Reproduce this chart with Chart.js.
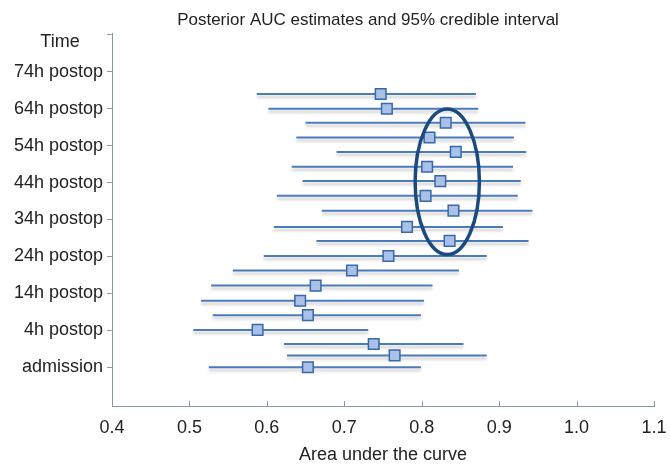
<!DOCTYPE html>
<html>
<head>
<meta charset="utf-8">
<script src="https://cdn.jsdelivr.net/npm/chart.js@4"></script>
<style>
  html, body { margin: 0; padding: 0; background: #fff; }
  #wrap { width: 670px; height: 466px; }
</style>
</head>
<body>
<div id="wrap"><canvas id="auc"></canvas></div>
<script>
// y positions (row index, 0 = admission, 1 = 4h postop, ...)
const rowPos = [7.4, 7.0, 6.62, 6.22, 5.83, 5.43, 5.04, 4.64, 4.24, 3.8, 3.42, 3.01, 2.62, 2.21, 1.8, 1.41, 1.01, 0.63, 0.32, 0.0];
const aucMean = [0.747, 0.755, 0.831, 0.810, 0.844, 0.807, 0.824, 0.805, 0.841, 0.781, 0.836, 0.757, 0.710, 0.663, 0.643, 0.653, 0.588, 0.738, 0.765, 0.653];
const aucLow  = [0.587, 0.602, 0.650, 0.638, 0.690, 0.632, 0.646, 0.613, 0.671, 0.609, 0.664, 0.596, 0.556, 0.528, 0.515, 0.530, 0.505, 0.622, 0.626, 0.525];
const aucHigh = [0.870, 0.873, 0.934, 0.919, 0.935, 0.918, 0.928, 0.924, 0.943, 0.905, 0.938, 0.884, 0.848, 0.814, 0.803, 0.799, 0.731, 0.854, 0.884, 0.799];

const timeLabels = ["admission", "4h postop", "14h postop", "24h postop", "34h postop", "44h postop", "54h postop", "64h postop", "74h postop"];
const xTicks = [0.4, 0.5, 0.6, 0.7, 0.8, 0.9, 1.0, 1.1];

// highlighted ellipse: center x, center y, half width, half height (data units)
const ellipse = [0.833, 5.02, 0.0415, 1.97];

const axisColor = "#7f9ca0";

// interval segments, broken by null gaps
const segs = [];
rowPos.forEach((y, i) => {
    segs.push({ x: aucLow[i], y: y });
    segs.push({ x: aucHigh[i], y: y });
    segs.push({ x: null, y: null });
});

const extras = {
    id: "extras",
    beforeDatasetDraw(chart, args) {
        if (args.index === 0) {
            const ctx = chart.ctx;
            ctx.save();
            ctx.shadowColor = "rgba(0,0,0,0.22)";
            ctx.shadowOffsetY = 3;
            ctx.shadowBlur = 3;
        }
    },
    afterDatasetDraw(chart, args) {
        if (args.index === 0) chart.ctx.restore();
    },
    afterDatasetsDraw(chart) {
        const ctx = chart.ctx;
        const xs = chart.scales.x, ys = chart.scales.y;
        const cx = xs.getPixelForValue(ellipse[0]);
        const cy = ys.getPixelForValue(ellipse[1]);
        const rx = Math.abs(xs.getPixelForValue(ellipse[0] + ellipse[2]) - cx);
        const ry = Math.abs(ys.getPixelForValue(ellipse[1] + ellipse[3]) - cy);
        ctx.save();
        ctx.beginPath();
        ctx.ellipse(cx, cy, rx, ry, 0, 0, Math.PI * 2);
        ctx.strokeStyle = "#1d4a7e";
        ctx.lineWidth = 3.5;
        ctx.stroke();
        // x ticks pointing inward
        ctx.strokeStyle = axisColor;
        ctx.lineWidth = 1;
        xTicks.forEach(v => {
            const px = Math.round(xs.getPixelForValue(v)) + 0.5;
            ctx.beginPath();
            ctx.moveTo(px, xs.top);
            ctx.lineTo(px, xs.top - 5);
            ctx.stroke();
        });
        ctx.restore();
    },
    afterDraw(chart) {
        const ctx = chart.ctx;
        ctx.save();
        ctx.fillStyle = "#222";
        ctx.textAlign = "center";
        ctx.textBaseline = "middle";
        ctx.font = "17px 'Liberation Sans', Arial, sans-serif";
        ctx.fillText("Posterior AUC estimates and 95% credible interval", 368, 20);
        ctx.font = "18px 'Liberation Sans', Arial, sans-serif";
        ctx.fillText("Time", 60, 42);
        ctx.restore();
    }
};

Chart.defaults.font.family = "'Liberation Sans', Arial, sans-serif";
Chart.defaults.font.size = 18;
Chart.defaults.color = "#222";

new Chart(document.getElementById("auc"), {
    type: "scatter",
    data: {
        datasets: [{
            type: "line",
            data: segs,
            borderColor: "#4a7cba",
            borderWidth: 2,
            pointRadius: 0,
            spanGaps: false,
            order: 2
        }, {
            data: rowPos.map((y, i) => ({ x: aucMean[i], y: y })),
            pointStyle: "rect",
            pointRadius: 7.5,
            backgroundColor: "#a9c0e9",
            borderColor: "#3a68a6",
            borderWidth: 1.5,
            order: 1
        }]
    },
    options: {
        animation: false,
        responsive: true,
        maintainAspectRatio: false,
        layout: { padding: { top: 33, right: 16, left: 0, bottom: 0 } },
        plugins: {
            legend: { display: false },
            tooltip: { enabled: false }
        },
        scales: {
            x: {
                type: "linear",
                min: 0.4,
                max: 1.1,
                afterBuildTicks: s => { s.ticks = xTicks.map(v => ({ value: v })); },
                afterFit: s => { s.height = 60; s.paddingLeft = 0; s.paddingRight = 0; },
                ticks: {
                    padding: 11,
                    color: "#222",
                    callback: v => v.toFixed(1)
                },
                grid: { display: false, drawTicks: false },
                border: { color: axisColor, width: 1 },
                title: {
                    display: true,
                    text: "Area under the curve",
                    color: "#222",
                    font: { size: 18 },
                    padding: { top: 0, bottom: 0 }
                }
            },
            y: {
                type: "linear",
                min: -1.05,
                max: 9.05,
                afterBuildTicks: s => { s.ticks = [0, 1, 2, 3, 4, 5, 6, 7, 8, 9].map(v => ({ value: v })); },
                afterFit: s => { s.width = 112; s.paddingTop = 0; s.paddingBottom = 0; },
                ticks: {
                    padding: 4,
                    color: "#222",
                    callback: v => timeLabels[v] || ""
                },
                grid: {
                    drawOnChartArea: false,
                    drawTicks: true,
                    tickLength: 5,
                    color: axisColor
                },
                border: { color: axisColor, width: 1 }
            }
        }
    },
    plugins: [extras]
});
</script>
</body>
</html>
